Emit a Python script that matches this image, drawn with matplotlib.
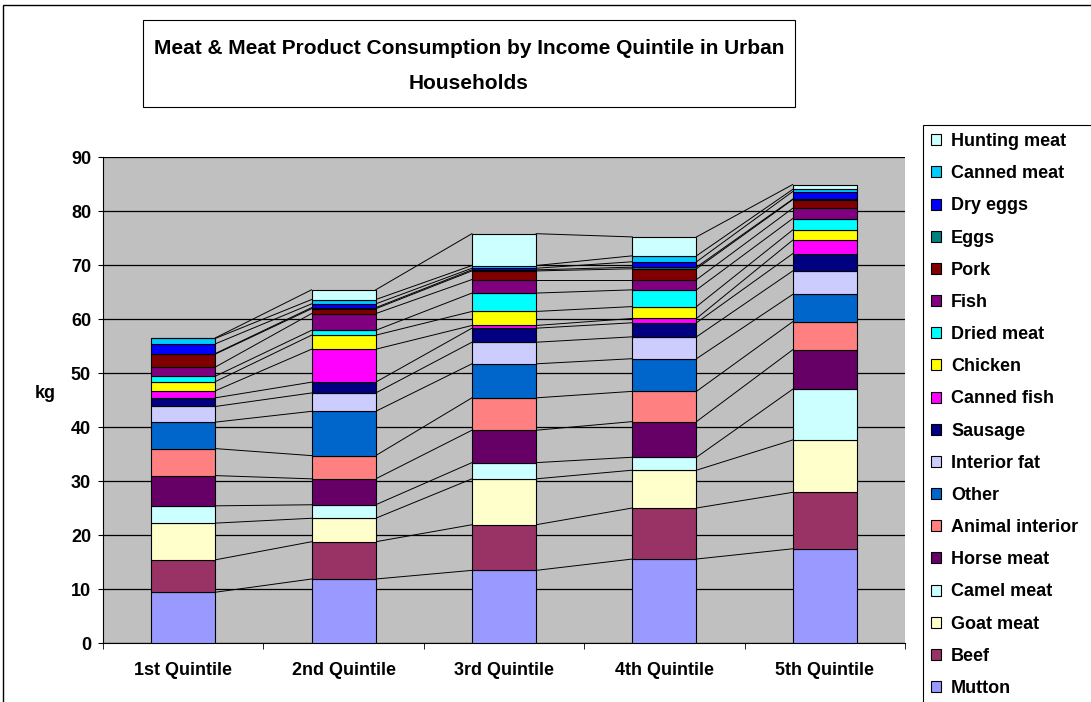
import matplotlib
matplotlib.use("Agg")
import matplotlib.pyplot as plt
import numpy as np
from matplotlib.patches import Rectangle, Patch

plt.rcParams['font.family'] = ['Liberation Sans', 'DejaVu Sans']

categories = ["1st Quintile", "2nd Quintile", "3rd Quintile", "4th Quintile", "5th Quintile"]
series_names = ["Mutton", "Beef", "Goat meat", "Camel meat", "Horse meat", "Animal interior",
                "Other", "Interior fat", "Sausage", "Canned fish", "Chicken", "Dried meat",
                "Fish", "Pork", "Eggs", "Dry eggs", "Canned meat", "Hunting meat"]

mutton          = [9.4, 11.85, 13.45, 15.55, 17.45]
beef            = [6.0, 6.9, 8.45, 9.45, 10.45]
goat_meat       = [6.8, 4.35, 8.5, 7.0, 9.7]
camel_meat      = [3.2, 2.5, 3.0, 2.4, 9.4]
horse_meat      = [5.6, 4.8, 6.0, 6.6, 7.3]
animal_interior = [5.0, 4.3, 6.0, 5.6, 5.2]
other           = [4.9, 8.2, 6.3, 6.05, 5.05]
interior_fat    = [2.9, 3.4, 4.0, 4.05, 4.35]
sausage         = [1.6, 2.0, 2.6, 2.6, 3.2]
canned_fish     = [1.3, 6.1, 0.5, 0.8, 2.5]
chicken         = [1.7, 2.6, 2.6, 2.2, 1.9]
dried_meat      = [1.0, 0.9, 3.4, 3.1, 2.1]
fish            = [1.7, 3.1, 2.5, 1.9, 1.9]
pork            = [2.4, 0.9, 1.6, 2.0, 1.6]
eggs            = [0.1, 0.2, 0.2, 0.3, 0.1]
dry_eggs        = [1.8, 0.7, 0.3, 1.0, 1.4]
canned_meat     = [1.0, 0.8, 0.5, 1.1, 0.4]
hunting_meat    = [0.1, 1.8, 5.9, 3.5, 0.9]

values = [mutton, beef, goat_meat, camel_meat, horse_meat, animal_interior, other,
          interior_fat, sausage, canned_fish, chicken, dried_meat, fish, pork, eggs,
          dry_eggs, canned_meat, hunting_meat]
colors = ["#9999FF", "#993366", "#FFFFCC", "#CCFFFF", "#660066", "#FF8080", "#0066CC",
          "#CCCCFF", "#000080", "#FF00FF", "#FFFF00", "#00FFFF", "#800080", "#800000",
          "#008080", "#0000FF", "#00CCFF", "#CCFFFF"]

W, H = 1091, 702
fig = plt.figure(figsize=(W / 100, H / 100), dpi=100)
fig.patch.set_facecolor("white")

# outer chart frame
fig.add_artist(Rectangle((3 / W, -0.2), 1.2, 1.2 - 5 / H, transform=fig.transFigure,
                         fill=False, edgecolor="black", lw=1.0))

ax_l, ax_r, ax_t, ax_b = 103, 905, 157, 643
ax = fig.add_axes([ax_l / W, 1 - ax_b / H, (ax_r - ax_l) / W, (ax_b - ax_t) / H])
ax.set_facecolor("#C0C0C0")

x = np.arange(len(categories))
width = 0.4
bottom = np.zeros(len(categories))
tops = []
for name, vals, c in zip(series_names, values, colors):
    v = np.array(vals)
    ax.bar(x, v, width, bottom=bottom, color=c, edgecolor="black", linewidth=0.8,
           label=name, zorder=3)
    bottom = bottom + v
    tops.append(bottom.copy())

# series lines
for t in tops:
    for i in range(len(categories) - 1):
        ax.plot([x[i] + width / 2, x[i + 1] - width / 2], [t[i], t[i + 1]],
                color="black", lw=0.7, zorder=2)

ax.set_xlim(-0.5, len(categories) - 0.5)
ax.set_ylim(0, 90)
ax.set_yticks(np.arange(0, 91, 10))
ax.yaxis.grid(True, color="#000000", lw=0.9, zorder=1)
ax.set_axisbelow(True)
ax.set_xticks(x)
ax.set_xticklabels(categories, fontsize=13, fontweight="bold")
ax.tick_params(axis="x", length=0, pad=14)
ax.set_xticks(np.arange(-0.5, len(categories), 1), minor=True)
ax.tick_params(axis="x", which="minor", length=4, direction="out")
ax.tick_params(axis="y", length=3.6, direction="out", labelsize=13, pad=5)
for lab in ax.get_yticklabels():
    lab.set_fontweight("bold")
for s in ["top", "right"]:
    ax.spines[s].set_visible(False)
ax.spines["left"].set_color("black")
ax.spines["bottom"].set_color("black")
fig.text(45 / W, 1 - 393 / H, "kg", fontsize=13, fontweight="bold",
         ha="center", va="center")

# title with box
fig.add_artist(Rectangle((143 / W, 1 - 107 / H), (795 - 143) / W, 87 / H,
                         transform=fig.transFigure, fill=True, facecolor="white",
                         edgecolor="black", lw=0.8))
fig.text(469 / W, 1 - 66 / H,
         "Meat & Meat Product Consumption by Income Quintile in Urban\nHouseholds",
         ha="center", va="center", fontsize=15, fontweight="bold", linespacing=2.05)

# legend frame (extends beyond figure edges)
fig.add_artist(Rectangle((923 / W, -0.1), 0.5, 1.1 - 125 / H,
                         transform=fig.transFigure, fill=True, facecolor="white",
                         edgecolor="black", lw=0.8))
handles = [Patch(facecolor=c, edgecolor="black", lw=0.8) for c in colors][::-1]
labels = series_names[::-1]
leg = fig.legend(handles, labels, loc="upper left",
                 bbox_to_anchor=(923 / W, 1 - 125 / H),
                 prop={"weight": "bold", "size": 13}, frameon=False,
                 handlelength=0.55, handleheight=0.55,
                 handletextpad=0.55, labelspacing=0.84, borderpad=0.45,
                 borderaxespad=0)

fig.savefig("out.png", dpi=100)
